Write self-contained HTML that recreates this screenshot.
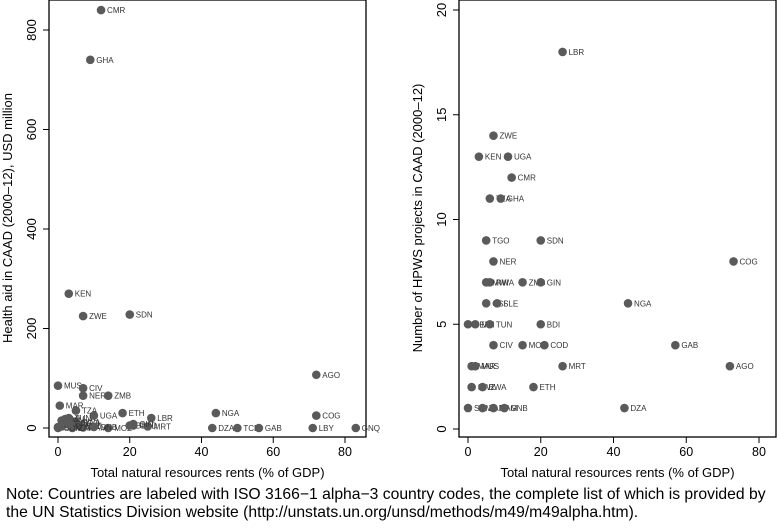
<!DOCTYPE html>
<html><head><meta charset="utf-8"><style>
body{margin:0;background:#fff;width:777px;height:523px;overflow:hidden;font-family:"Liberation Sans",sans-serif}
svg text{font-family:"Liberation Sans",sans-serif}
</style></head><body>
<svg id="c" width="777" height="523"></svg>
<script>
const leftNames=["CMR","GHA","KEN","ZWE","SDN","AGO","MUS","CIV","NER","ZMB","MAR","TZA","UGA","ETH","LBR","NGA","COG","DZA","TCD","GAB","LBY","GNQ","MOZ","BDI","COD","MRT","GIN","SEN","TGO","MWI","RWA","BEN","MLI","SLE","TUN","SWZ","BWA","NAM","ZAF","GNB","SOM","ERI"];
const leftX=[12,9,3,7,20,72,0,7,7,14,0.5,5,10,18,26,44,72,43,50,56,71,83,14,20,21,25,21,1,5,6,5,0,2,6,3,1,4,7,4,10,0,3];
const leftY=[840,740,270,225,228,107,85,80,65,65,45,35,25,30,20,30,25,0,0,0,0,0,0,5,5,3,8,15,10,5,12,2,18,4,20,3,2,1,0,2,0,8];
const rightNames=["LBR","ZWE","KEN","UGA","CMR","TZA","GHA","TGO","SDN","NER","COG","RWA","MWI","ZMB","GIN","NGA","CSI","SLE","BDI","BEN","MLI","TUN","GAB","CIV","MOZ","COD","AGO","MRT","MAR","MUS","ETH","SWZ","BWA","DZA","SOM","ZAF","NAM","GNB"];
const rightX=[26,7,3,11,12,6,9,5,20,7,73,6,5,15,20,44,5,8,20,0,2,6,57,7,15,21,72,26,1,2,18,1,4,43,0,4,7,10];
const rightY=[18,14,13,13,12,11,11,9,9,8,8,7,7,7,7,6,6,6,5,5,5,5,4,4,4,4,3,3,3,3,2,2,2,1,1,1,1,1];
const xTicks=[0,20,40,60,80];
const leftYTicks=[0,200,400,600,800];
const rightYTicks=[0,5,10,15,20];
const svg=document.getElementById('c');
const NS='http://www.w3.org/2000/svg';
function mk(t,a,txt){const e=document.createElementNS(NS,t);for(const k in a)e.setAttribute(k,a[k]);if(txt!==undefined)e.textContent=txt;svg.appendChild(e);return e;}
function panel(p){
  const xs=v=>p.x0+(v/80)*(p.x80-p.x0);
  const ys=v=>p.y0-(v/p.ymax)*(p.y0-p.ytop);
  const fr=mk('rect',{x:p.L,y:0,width:p.R-p.L,height:437,fill:'none',stroke:'#000','stroke-width':1.3});
  
  
  xTicks.forEach(t=>{
    const l=mk('line',{x1:xs(t),x2:xs(t),y1:437,y2:443,stroke:'#000'});
    
    
    const tx=mk('text',{x:xs(t),y:456,'text-anchor':'middle','font-size':12.5},t);
    
    
  });
  p.yt.forEach(t=>{
    const l=mk('line',{x1:p.L-6,x2:p.L,y1:ys(t),y2:ys(t),stroke:'#000'});
    
    
    const tx=mk('text',{x:0,y:0,'text-anchor':'middle','font-size':13,transform:`translate(${p.L-13},${ys(t)}) rotate(-90)`},t);
    
    
  });
  const xt=mk('text',{x:(p.L+p.R)/2,y:477,'text-anchor':'middle','font-size':13},'Total natural resources rents (% of GDP)');
  
  
  const yt=mk('text',{x:0,y:0,'text-anchor':'middle','font-size':13,transform:`translate(${p.L-37},${218}) rotate(-90)`},p.ylab);
  
  
  p.n.forEach((nm,i)=>{
    const cx=xs(p.xv[i]),cy=ys(p.yv[i]);
    const c=mk('circle',{cx:cx,cy:cy,r:4.3,fill:'#5a5a5a'});
    
    
    const t=mk('text',{x:cx+6,y:cy+3,'font-size':8,fill:'#333'},nm);
    
    
  });
}
panel({id:'left',L:49,R:366,x0:58,x80:345,y0:428,ytop:30,ymax:800,yt:leftYTicks,n:leftNames,xv:leftX,yv:leftY,ylab:'Health aid in CAAD (2000\u201312), USD million'});
panel({id:'right',L:459,R:776,x0:468,x80:759,y0:429,ytop:10,ymax:20,yt:rightYTicks,n:rightNames,xv:rightX,yv:rightY,ylab:'Number of HPWS projects in CAAD (2000\u201312)'});
</script>
<div style="position:absolute;left:6px;top:486px;font-size:15.7px;line-height:17.5px;color:#000;white-space:nowrap">Note: Countries are labeled with ISO 3166−1 alpha−3 country codes, the complete list of which is provided by<br>the UN Statistics Division website (http://unstats.un.org/unsd/methods/m49/m49alpha.htm).</div>
</body></html>
